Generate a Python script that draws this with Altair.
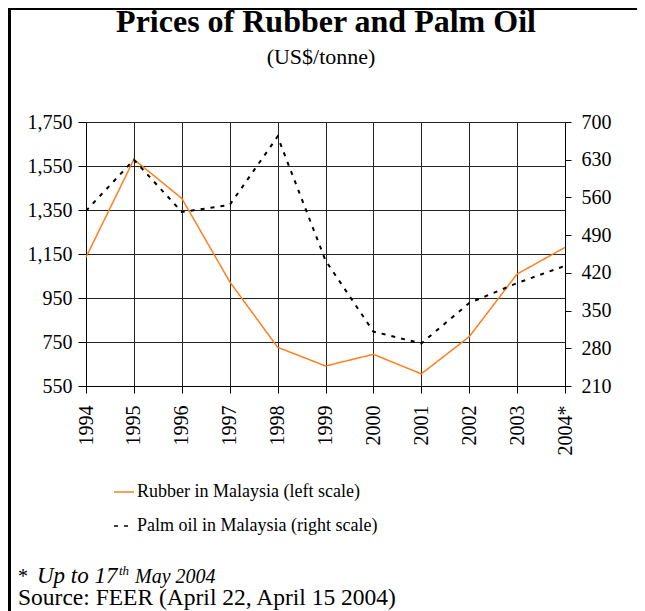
import altair as alt
import pandas as pd

years = ["1994", "1995", "1996", "1997", "1998", "1999", "2000", "2001", "2002", "2003", "2004*"]
rubber = [1135, 1580, 1403, 1024, 726, 641, 694, 605, 774, 1059, 1180]
palm = [535, 630, 533, 546, 673, 443, 311, 289, 364, 401, 433]
series_names = ["Rubber in Malaysia (left scale)", "Palm oil in Malaysia (right scale)"]
left_ticks = [550, 750, 950, 1150, 1350, 1550, 1750]
right_ticks = [210, 280, 350, 420, 490, 560, 630, 700]

title_text = "Prices of Rubber and Palm Oil"
subtitle_text = "(US$/tonne)"
note_star = "*"
note_a = "Up to 17"
note_sup = "th"
note_b = "May 2004"
source_text = "Source: FEER (April 22, April 15 2004)"

ORANGE = "#FF7F1E"
FONT = "Liberation Serif"

df_r = pd.DataFrame({"year": years, "value": rubber, "series": series_names[0]})
df_p = pd.DataFrame({"year": years, "value": palm, "series": series_names[1]})

legend = alt.Legend(
    title=None, orient="none", legendX=27, legendY=359,
    symbolType="stroke", symbolSize=400, symbolStrokeWidth=1.5,
    labelFont=FONT, labelFontSize=18, labelColor="black", labelLimit=0,
    labelOffset=2, rowPadding=14,
)
color = alt.Color("series:N", scale=alt.Scale(domain=series_names, range=[ORANGE, "black"]), legend=legend)
dash = alt.StrokeDash("series:N", scale=alt.Scale(domain=series_names, range=[[1, 0], [4, 6]]), legend=legend)

x_enc = alt.X(
    "year:N", sort=years,
    scale=alt.Scale(type="point", padding=0),
    axis=alt.Axis(title=None, labelAngle=270, labelFontSize=20, labelFont=FONT,
                  labelColor="black", tickSize=7, labelPadding=12, grid=True,
                  gridColor="#222222", gridWidth=1, domainColor="black",
                  tickColor="black"),
)

rubber_line = alt.Chart(df_r).mark_line(strokeWidth=1.5).encode(
    x=x_enc,
    y=alt.Y("value:Q", scale=alt.Scale(domain=[550, 1750], nice=False, zero=False),
            axis=alt.Axis(title=None, orient="left", values=left_ticks, format=",d",
                          labelFontSize=20, labelFont=FONT, labelColor="black",
                          tickSize=8, labelPadding=6, grid=True, gridColor="#222222",
                          gridWidth=1, domainColor="black", tickColor="black")),
    color=color,
    strokeDash=dash,
)

palm_line = alt.Chart(df_p).mark_line(strokeWidth=2).encode(
    x=x_enc,
    y=alt.Y("value:Q", scale=alt.Scale(domain=[210, 700], nice=False, zero=False),
            axis=alt.Axis(title=None, orient="right", values=right_ticks,
                          labelFontSize=20, labelFont=FONT, labelColor="black",
                          tickSize=6, labelPadding=10, grid=False,
                          domainColor="black", tickColor="black")),
    color=color,
    strokeDash=dash,
)

def txt(text, x, y, size, **kw):
    return alt.Chart(pd.DataFrame({"t": [text]})).mark_text(
        font=FONT, fontSize=size, color="black", baseline="alphabetic", **kw
    ).encode(x=alt.value(x), y=alt.value(y), text="t:N")

title = txt(title_text, 240, -90, 32, align="center", fontWeight="bold")
subtitle = txt(subtitle_text, 235, -58, 22, align="center")
n0 = txt(note_star, -68, 461, 20, align="left")
n1 = txt(note_a, -49, 461, 23, align="left", fontStyle="italic")
n2 = txt(note_sup, 33, 453, 13, align="left", fontStyle="italic")
n3 = txt(note_b, 49, 461, 20, align="left", fontStyle="italic")
src = txt(source_text, -68, 483, 23.5, align="left")

one = pd.DataFrame({"k": [0]})
left_border = alt.Chart(one).mark_rule(color="black", strokeWidth=3).encode(
    x=alt.value(-76.5), y=alt.value(-114), y2=alt.value(489))
top_border = alt.Chart(one).mark_rule(color="black", strokeWidth=2).encode(
    x=alt.value(-78), x2=alt.value(551), y=alt.value(-113))

chart = alt.layer(
    rubber_line, palm_line, title, subtitle, n0, n1, n2, n3, src, left_border, top_border
).resolve_scale(y="independent").properties(
    width=479, height=264,
    autosize=alt.AutoSizeParams(type="none"),
    padding={"left": 78, "top": 114, "right": 72, "bottom": 225},
).configure_view(stroke=None)

chart.save("out.html", embed_options={"renderer": "svg", "actions": False})
